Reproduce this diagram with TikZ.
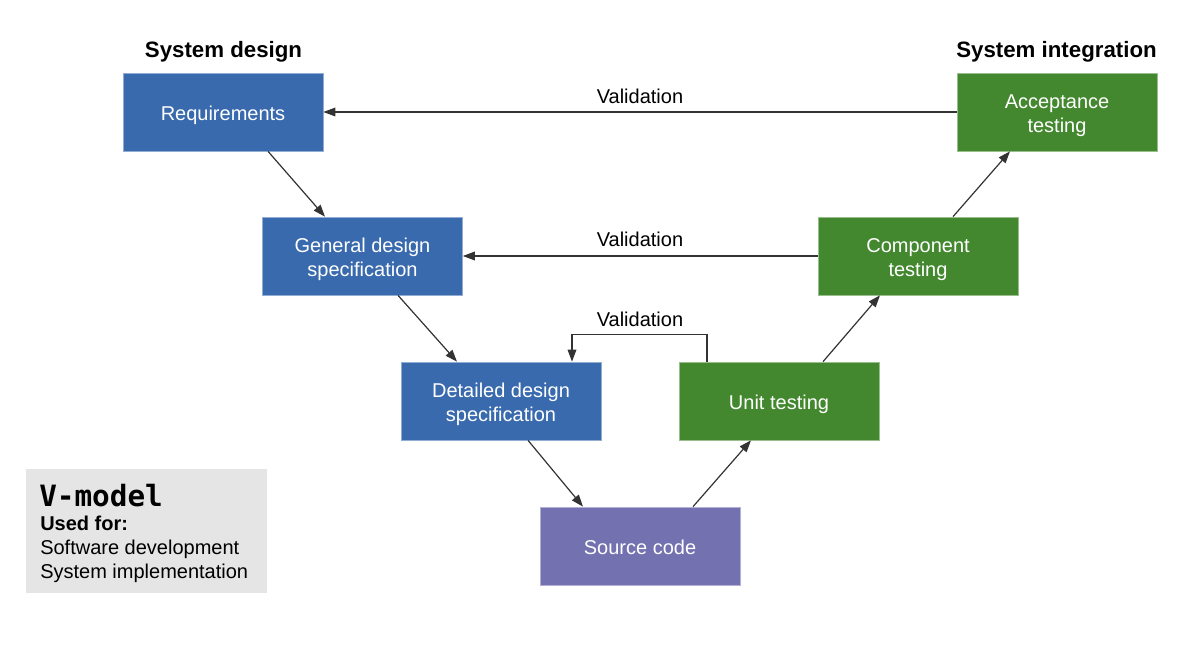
\documentclass[tikz,border=0pt]{standalone}
\usepackage{fontspec}
\setmainfont{Liberation Sans}
\setmonofont{DejaVu Sans Mono}
\usetikzlibrary{arrows.meta,calc}

\definecolor{designblue}{RGB}{56,106,173}
\definecolor{testgreen}{RGB}{67,136,47}
\definecolor{codepurple}{RGB}{115,113,176}
\definecolor{legendgray}{RGB}{229,229,229}
\definecolor{linkgray}{RGB}{51,51,51}

\begin{document}
\begin{tikzpicture}[x=0.75pt,y=0.75pt,yscale=-1,xscale=1,
  stage/.style={fill=#1, draw=#1!55!white, line width=0.5pt, text=white,
    minimum width=150pt, minimum height=58.5pt, inner sep=0pt, align=center,
    font=\fontsize{15}{18}\selectfont,
    execute at begin node={\rule{0pt}{17pt}},
    execute at end node={\rule[-4pt]{0pt}{4pt}}},
  twoline/.style={execute at begin node={\rule{0pt}{35pt}}},
  link/.style={draw=linkgray, line width=0.9pt, -{Triangle[length=9pt,width=6.5pt]}},
  heading/.style={anchor=base, inner sep=0pt, font=\bfseries\fontsize{16.7}{20}\selectfont},
  vlabel/.style={anchor=base, inner sep=0pt, font=\fontsize{15}{18}\selectfont},
  legendtext/.style={anchor=base west, inner sep=0pt, font=\fontsize{15}{18}\selectfont}]
\useasboundingbox (0,0) rectangle (1192,652);
\fill[white] (0,0) rectangle (1192,652);

% Boxes
\node[stage=designblue] (req) at (223,112) {Requirements};
\node[stage=designblue, twoline] (gen) at (362.5,256) {General design\\specification};
\node[stage=designblue, twoline] (det) at (501,401) {Detailed design\\specification};
\node[stage=codepurple] (src) at (640,546) {Source code};
\node[stage=testgreen] (unit) at (779,401) {Unit testing};
\node[stage=testgreen, twoline] (comp) at (918,256) {Component\\testing};
\node[stage=testgreen, twoline] (acc) at (1057,112) {Acceptance\\testing};

% Text Node
\node[heading] (designtitle) at (223.5,58) {System design};
% Text Node
\node[heading] (integtitle) at (1056.5,58) {System integration};

% Straight Lines
\draw[link] ($(req.south)+(45,0)$) -- ($(gen.north)+(-37.5,0)$);
\draw[link] ($(gen.south)+(35.5,0)$) -- ($(det.north)+(-44,0)$);
\draw[link] ($(det.south)+(27,0)$) -- ($(src.north)+(-57,0)$);
\draw[link] ($(src.north)+(53,0)$) -- ($(unit.south)+(-28,0)$);
\draw[link] ($(unit.north)+(44,0)$) -- ($(comp.south)+(-38,0)$);
\draw[link] ($(comp.north)+(35,0)$) -- ($(acc.south)+(-47,0)$);

% Validation
\draw[link] (acc.west) -- (req.east);
\draw[link] (comp.west) -- (gen.east);
\draw[link] ($(unit.north)+(-72,0)$) -- ++(0,-27) -| ($(det.north)+(71,0)$);
\node[vlabel] (valtop) at (640,104) {Validation};
\node[vlabel] (valmid) at (640,247) {Validation};
\node[vlabel] (valbot) at (640,326) {Validation};

% Legend
\node[fill=legendgray, anchor=north west, minimum width=180.75pt, minimum height=93pt, inner sep=0pt] (legendbox) at (26,469) {};
\node[anchor=base west, inner sep=0pt, font=\ttfamily\bfseries\fontsize{22}{26}\selectfont] (vmodel) at (39,506) {V-model};
\node[legendtext, font=\bfseries\fontsize{15}{18}\selectfont] (usedfor) at (40,530) {Used for:};
\node[legendtext] (usesw) at (40,554) {Software development};
\node[legendtext] (usesys) at (40,578) {System implementation};

\end{tikzpicture}
\end{document}
